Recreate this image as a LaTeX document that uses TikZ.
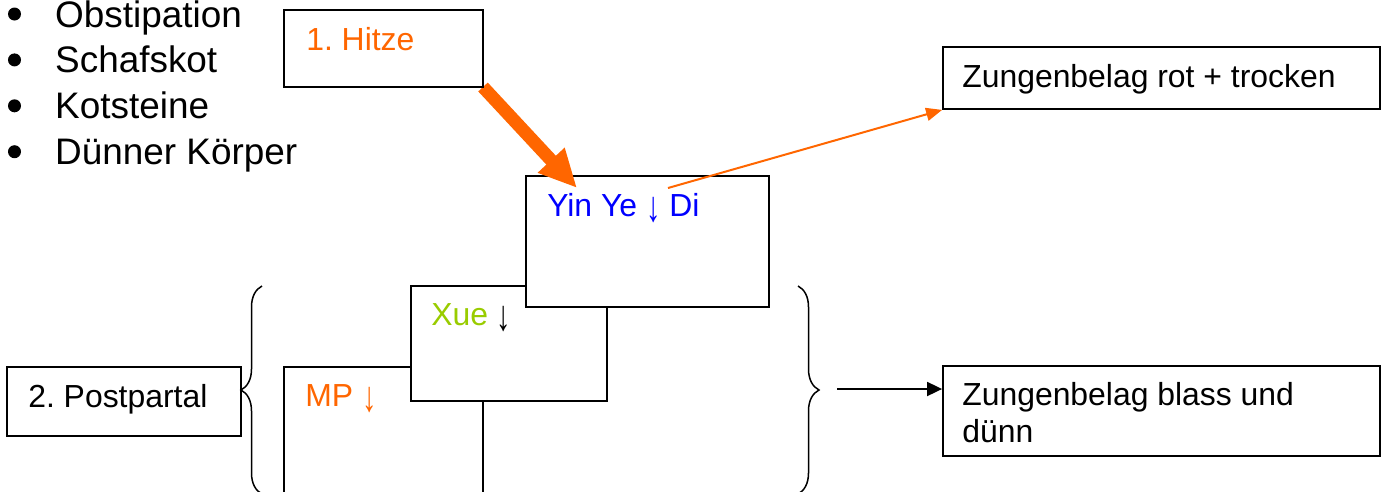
\documentclass[tikz,border=0pt]{standalone}
\usepackage{fontspec}
\setmainfont{Liberation Sans}
\frenchspacing
\usetikzlibrary{calc,arrows.meta,positioning,decorations.pathreplacing}
\definecolor{hzOrange}{RGB}{255,102,0}
\definecolor{hzBlue}{RGB}{0,0,255}
\definecolor{hzGreen}{RGB}{153,204,0}
\newcommand{\dnarrow}{\raisebox{-0.16em}{\scalebox{0.9}[1.35]{↓}}}
\tikzset{
  box/.style={draw=black, fill=white, line width=1.8pt, rectangle, inner sep=0pt},
  lbl/.style={anchor=base west, inner sep=0pt, font=\fontsize{31.9}{37}\selectfont},
  symfont/.style={inner sep=0pt, font=\fontsize{36.9}{46}\selectfont},
  symdot/.style={circle, fill=black, inner sep=0pt, minimum size=13pt},
  bracket/.style={decorate, decoration={brace, amplitude=21pt}, line width=1.5pt},
}
\begin{document}
\begin{tikzpicture}[x=1pt,y=-1pt]
    \useasboundingbox (0,0) rectangle (1386,491);
    \clip (0,0) rectangle (1386,491);

    % symptom list
    \foreach \sym [count=\i] in {Obstipation, Schafskot, Kotsteine, Dünner Körper} {
        \node[symdot] (dot\i) at (14.5,{14+45.9*(\i-1)}) {};
        \node[symfont, anchor=base west] (sym\i) at (55,{27+45.7*(\i-1)}) {\sym};
    }

    % stacked deficiency boxes
    \node[box, minimum width=199pt, minimum height=173pt] (mp) at (383.5,453.5) {};
    \node[box, minimum width=196pt, minimum height=115pt] (xue) at (509,343.5) {};
    \node[box, minimum width=243pt, minimum height=131pt] (yin) at (647.5,241.5) {};

    \coordinate (hotTip) at (577,188);
    \draw[hzOrange, line width=13pt, -{Triangle[length=38pt,width=34pt]}] (483,87) coordinate (hotStart) -- (hotTip);
    \node[box, minimum width=199pt, minimum height=77pt] (hitze) at (383.5,48.5) {};

    \node[box, minimum width=437pt, minimum height=62pt] (rot) at (1161.5,78) {};
    \node[box, minimum width=234pt, minimum height=69pt] (post) at (124,401.5) {};
    \node[box, minimum width=437pt, minimum height=90pt] (blass) at (1161.5,411) {};

    % labels
    \node[lbl, text=hzOrange] (hitzeTxt) at ($(hitze.north west)+(23,41)$) {1. Hitze};
    \node[lbl, text=hzBlue] (yinTxt) at ($(yin.north west)+(22,41)$) {Yin Ye \dnarrow{} Di};
    \node[lbl] (xueTxt) at ($(xue.north west)+(21,40)$) {\textcolor{hzGreen}{Xue} \dnarrow};
    \node[lbl, text=hzOrange] (mpTxt) at ($(mp.north west)+(22,40)$) {MP \dnarrow};
    \node[lbl] (postTxt) at ($(post.north west)+(22,41)$) {2. Postpartal};
    \node[lbl] (rotTxt) at ($(rot.north west)+(20,41)$) {Zungenbelag rot + trocken};
    \node[lbl, align=left] (blassTxt) at ($(blass.north west)+(20,77)$) {Zungenbelag blass und\\dünn};

    % braces
    \draw[bracket] (262,494) -- (262,286);
    \draw[bracket] (798,286) -- (798,494);

    % connectors
    \coordinate (tongueStart) at (668,188);
    \draw[hzOrange, line width=2pt, -{Triangle[length=16pt,width=13pt]}] (tongueStart) -- (rot.south west);
    \coordinate (paleStart) at (837,389);
    \draw[line width=1.8pt, -{Triangle[length=15pt,width=14pt]}] (paleStart) -- (paleStart -| blass.west);
\end{tikzpicture}
\end{document}
